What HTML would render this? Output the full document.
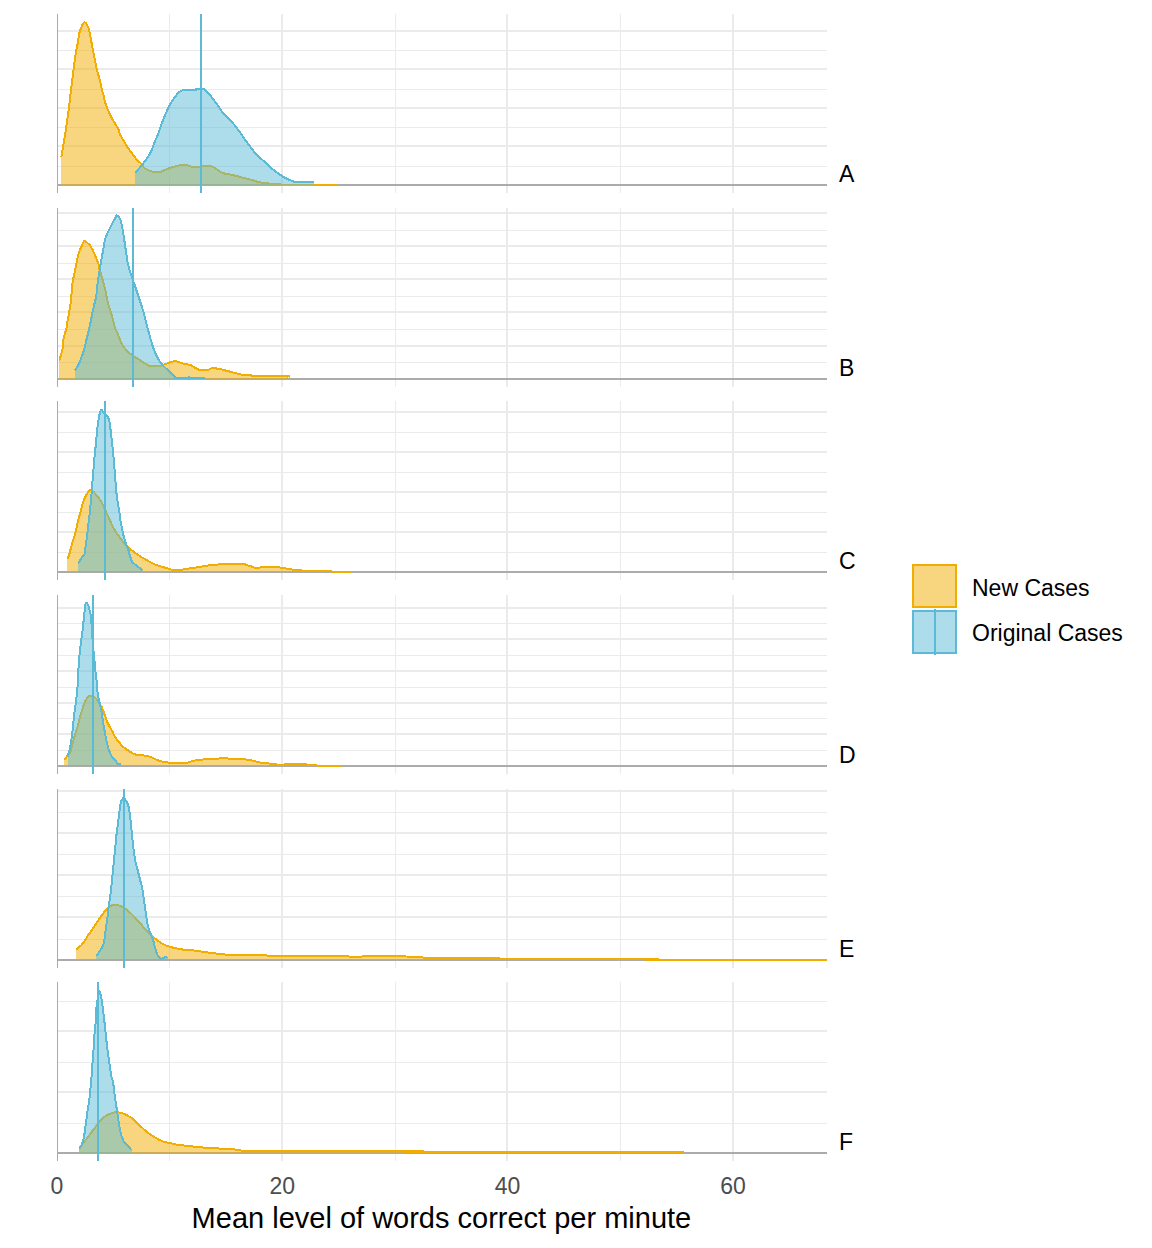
<!DOCTYPE html>
<html><head><meta charset="utf-8"><title>Density chart</title>
<style>html,body{margin:0;padding:0;background:#fff;width:1152px;height:1248px;overflow:hidden;font-family:"Liberation Sans",sans-serif}</style>
</head><body>
<svg width="1152" height="1248" viewBox="0 0 1152 1248" style="position:absolute;left:0;top:0">
<rect width="1152" height="1248" fill="#fff"/>
<g shape-rendering="crispEdges">
<rect x="169.00" y="14.00" width="1.00" height="179.00" fill="#EBEBEB"/>
<rect x="395.00" y="14.00" width="1.00" height="179.00" fill="#EBEBEB"/>
<rect x="620.00" y="14.00" width="1.00" height="179.00" fill="#EBEBEB"/>
<rect x="281.00" y="14.00" width="2.00" height="179.00" fill="#EBEBEB"/>
<rect x="506.00" y="14.00" width="2.00" height="179.00" fill="#EBEBEB"/>
<rect x="732.00" y="14.00" width="2.00" height="179.00" fill="#EBEBEB"/>
<rect x="57.00" y="30.00" width="770.00" height="2.00" fill="#EBEBEB"/>
<rect x="57.00" y="68.00" width="770.00" height="2.00" fill="#EBEBEB"/>
<rect x="57.00" y="107.00" width="770.00" height="2.00" fill="#EBEBEB"/>
<rect x="57.00" y="145.00" width="770.00" height="2.00" fill="#EBEBEB"/>
<rect x="57.00" y="50.00" width="770.00" height="1.00" fill="#EBEBEB"/>
<rect x="57.00" y="89.00" width="770.00" height="1.00" fill="#EBEBEB"/>
<rect x="57.00" y="127.00" width="770.00" height="1.00" fill="#EBEBEB"/>
<rect x="57.00" y="166.00" width="770.00" height="1.00" fill="#EBEBEB"/>
<rect x="57.00" y="184.00" width="770.00" height="2.00" fill="#ABABAB"/>
</g>
<path d="M61.30,157.00 C61.42,156.42 61.72,155.12 62.00,153.50 C62.28,151.88 62.67,149.40 63.00,147.30 C63.33,145.20 63.67,142.95 64.00,140.90 C64.33,138.85 64.63,137.25 65.00,135.00 C65.37,132.75 65.57,131.80 66.20,127.40 C66.83,123.00 68.02,114.68 68.80,108.60 C69.58,102.52 70.12,97.32 70.90,90.90 C71.68,84.48 72.72,76.17 73.50,70.10 C74.28,64.03 74.87,58.85 75.55,54.50 C76.23,50.15 76.99,47.48 77.60,44.00 C78.21,40.52 78.50,36.55 79.20,33.60 C79.90,30.65 80.95,28.20 81.80,26.30 C82.65,24.40 83.30,22.20 84.30,22.20 C85.30,22.20 86.87,24.40 87.80,26.30 C88.73,28.20 89.23,30.65 89.90,33.60 C90.57,36.55 91.15,40.52 91.80,44.00 C92.45,47.48 92.93,50.15 93.80,54.50 C94.67,58.85 96.00,65.88 97.00,70.10 C98.00,74.32 98.98,76.45 99.80,79.80 C100.62,83.15 101.32,87.77 101.90,90.20 C102.48,92.63 102.78,92.48 103.30,94.40 C103.82,96.32 104.37,99.45 105.00,101.70 C105.63,103.95 106.13,105.48 107.10,107.90 C108.07,110.33 109.38,113.47 110.80,116.25 C112.22,119.03 114.37,122.52 115.60,124.60 C116.83,126.68 117.42,127.02 118.20,128.75 C118.98,130.48 119.33,132.92 120.30,135.00 C121.27,137.08 122.78,139.17 124.00,141.25 C125.22,143.33 126.22,145.42 127.60,147.50 C128.98,149.58 130.73,151.67 132.30,153.75 C133.87,155.83 135.53,158.36 137.00,160.00 C138.47,161.64 139.80,162.22 141.10,163.60 C142.40,164.98 143.32,167.08 144.80,168.30 C146.28,169.52 148.27,170.27 150.00,170.90 C151.73,171.53 153.48,171.90 155.20,172.10 C156.92,172.30 158.72,172.47 160.30,172.10 C161.88,171.73 162.65,170.72 164.70,169.90 C166.75,169.08 169.82,168.02 172.60,167.20 C175.38,166.38 179.05,165.37 181.40,165.00 C183.75,164.63 184.93,164.70 186.70,165.00 C188.47,165.30 189.95,166.43 192.00,166.80 C194.05,167.17 196.95,167.35 199.00,167.20 C201.05,167.05 202.53,166.12 204.30,165.90 C206.07,165.68 208.07,165.68 209.60,165.90 C211.13,166.12 211.97,166.40 213.50,167.20 C215.03,168.00 217.03,169.67 218.80,170.70 C220.57,171.73 222.05,172.73 224.10,173.40 C226.15,174.07 229.05,174.27 231.10,174.70 C233.15,175.13 234.33,175.48 236.40,176.00 C238.47,176.52 241.15,177.20 243.50,177.80 C245.85,178.40 248.15,178.93 250.50,179.60 C252.85,180.27 255.25,181.22 257.60,181.80 C259.95,182.38 262.53,182.80 264.60,183.10 C266.67,183.40 267.43,183.38 270.00,183.60 C272.57,183.82 277.08,184.17 280.00,184.40 C282.92,184.63 277.85,184.90 287.50,185.00 C297.15,185.10 329.50,185.00 337.90,185.00 L337.90,185.00 L61.30,185.00 Z" fill="#EFAD00" fill-opacity="0.5" shape-rendering="crispEdges"/>
<path d="M61.30,157.00 C61.42,156.42 61.72,155.12 62.00,153.50 C62.28,151.88 62.67,149.40 63.00,147.30 C63.33,145.20 63.67,142.95 64.00,140.90 C64.33,138.85 64.63,137.25 65.00,135.00 C65.37,132.75 65.57,131.80 66.20,127.40 C66.83,123.00 68.02,114.68 68.80,108.60 C69.58,102.52 70.12,97.32 70.90,90.90 C71.68,84.48 72.72,76.17 73.50,70.10 C74.28,64.03 74.87,58.85 75.55,54.50 C76.23,50.15 76.99,47.48 77.60,44.00 C78.21,40.52 78.50,36.55 79.20,33.60 C79.90,30.65 80.95,28.20 81.80,26.30 C82.65,24.40 83.30,22.20 84.30,22.20 C85.30,22.20 86.87,24.40 87.80,26.30 C88.73,28.20 89.23,30.65 89.90,33.60 C90.57,36.55 91.15,40.52 91.80,44.00 C92.45,47.48 92.93,50.15 93.80,54.50 C94.67,58.85 96.00,65.88 97.00,70.10 C98.00,74.32 98.98,76.45 99.80,79.80 C100.62,83.15 101.32,87.77 101.90,90.20 C102.48,92.63 102.78,92.48 103.30,94.40 C103.82,96.32 104.37,99.45 105.00,101.70 C105.63,103.95 106.13,105.48 107.10,107.90 C108.07,110.33 109.38,113.47 110.80,116.25 C112.22,119.03 114.37,122.52 115.60,124.60 C116.83,126.68 117.42,127.02 118.20,128.75 C118.98,130.48 119.33,132.92 120.30,135.00 C121.27,137.08 122.78,139.17 124.00,141.25 C125.22,143.33 126.22,145.42 127.60,147.50 C128.98,149.58 130.73,151.67 132.30,153.75 C133.87,155.83 135.53,158.36 137.00,160.00 C138.47,161.64 139.80,162.22 141.10,163.60 C142.40,164.98 143.32,167.08 144.80,168.30 C146.28,169.52 148.27,170.27 150.00,170.90 C151.73,171.53 153.48,171.90 155.20,172.10 C156.92,172.30 158.72,172.47 160.30,172.10 C161.88,171.73 162.65,170.72 164.70,169.90 C166.75,169.08 169.82,168.02 172.60,167.20 C175.38,166.38 179.05,165.37 181.40,165.00 C183.75,164.63 184.93,164.70 186.70,165.00 C188.47,165.30 189.95,166.43 192.00,166.80 C194.05,167.17 196.95,167.35 199.00,167.20 C201.05,167.05 202.53,166.12 204.30,165.90 C206.07,165.68 208.07,165.68 209.60,165.90 C211.13,166.12 211.97,166.40 213.50,167.20 C215.03,168.00 217.03,169.67 218.80,170.70 C220.57,171.73 222.05,172.73 224.10,173.40 C226.15,174.07 229.05,174.27 231.10,174.70 C233.15,175.13 234.33,175.48 236.40,176.00 C238.47,176.52 241.15,177.20 243.50,177.80 C245.85,178.40 248.15,178.93 250.50,179.60 C252.85,180.27 255.25,181.22 257.60,181.80 C259.95,182.38 262.53,182.80 264.60,183.10 C266.67,183.40 267.43,183.38 270.00,183.60 C272.57,183.82 277.08,184.17 280.00,184.40 C282.92,184.63 277.85,184.90 287.50,185.00 C297.15,185.10 329.50,185.00 337.90,185.00" fill="none" stroke="#F2AE00" stroke-width="2" stroke-linejoin="round" shape-rendering="crispEdges"/>
<path d="M135.40,172.50 C136.62,171.12 140.27,167.32 142.70,164.20 C145.13,161.07 148.08,157.23 150.00,153.75 C151.92,150.27 153.07,146.08 154.20,143.30 C155.33,140.53 156.08,138.83 156.80,137.10 C157.52,135.37 157.70,135.08 158.50,132.90 C159.30,130.72 160.50,126.95 161.60,124.00 C162.70,121.05 164.00,117.83 165.10,115.20 C166.20,112.57 167.23,110.25 168.20,108.20 C169.17,106.15 169.77,104.77 170.90,102.90 C172.03,101.03 173.73,98.72 175.00,97.00 C176.27,95.28 177.50,93.60 178.50,92.60 C179.50,91.60 180.17,91.42 181.00,91.00 C181.83,90.58 181.12,90.27 183.50,90.10 C185.88,89.93 193.13,90.18 195.30,90.00 C197.47,89.82 195.13,89.17 196.50,89.00 C197.87,88.83 201.83,88.58 203.50,89.00 C205.17,89.42 205.47,90.58 206.50,91.50 C207.53,92.42 208.58,93.18 209.70,94.50 C210.82,95.82 212.27,98.15 213.20,99.40 C214.13,100.65 214.22,100.53 215.30,102.00 C216.38,103.47 218.38,106.28 219.70,108.20 C221.02,110.12 221.58,111.60 223.20,113.50 C224.82,115.40 227.42,117.55 229.40,119.60 C231.38,121.65 233.27,123.58 235.10,125.80 C236.93,128.02 238.72,130.55 240.40,132.90 C242.08,135.25 243.52,137.55 245.20,139.90 C246.88,142.25 248.73,144.65 250.50,147.00 C252.27,149.35 253.60,151.65 255.80,154.00 C258.00,156.35 261.33,158.90 263.70,161.10 C266.07,163.30 267.70,165.23 270.00,167.20 C272.30,169.17 275.00,171.12 277.50,172.90 C280.00,174.68 282.37,176.51 285.00,177.90 C287.63,179.29 291.47,180.57 293.30,181.25 C295.13,181.93 292.59,181.88 296.00,182.00 C299.41,182.12 310.79,182.00 313.75,182.00 L313.75,185.00 L135.40,185.00 Z" fill="#5BBBD5" fill-opacity="0.5" shape-rendering="crispEdges"/>
<path d="M135.40,172.50 C136.62,171.12 140.27,167.32 142.70,164.20 C145.13,161.07 148.08,157.23 150.00,153.75 C151.92,150.27 153.07,146.08 154.20,143.30 C155.33,140.53 156.08,138.83 156.80,137.10 C157.52,135.37 157.70,135.08 158.50,132.90 C159.30,130.72 160.50,126.95 161.60,124.00 C162.70,121.05 164.00,117.83 165.10,115.20 C166.20,112.57 167.23,110.25 168.20,108.20 C169.17,106.15 169.77,104.77 170.90,102.90 C172.03,101.03 173.73,98.72 175.00,97.00 C176.27,95.28 177.50,93.60 178.50,92.60 C179.50,91.60 180.17,91.42 181.00,91.00 C181.83,90.58 181.12,90.27 183.50,90.10 C185.88,89.93 193.13,90.18 195.30,90.00 C197.47,89.82 195.13,89.17 196.50,89.00 C197.87,88.83 201.83,88.58 203.50,89.00 C205.17,89.42 205.47,90.58 206.50,91.50 C207.53,92.42 208.58,93.18 209.70,94.50 C210.82,95.82 212.27,98.15 213.20,99.40 C214.13,100.65 214.22,100.53 215.30,102.00 C216.38,103.47 218.38,106.28 219.70,108.20 C221.02,110.12 221.58,111.60 223.20,113.50 C224.82,115.40 227.42,117.55 229.40,119.60 C231.38,121.65 233.27,123.58 235.10,125.80 C236.93,128.02 238.72,130.55 240.40,132.90 C242.08,135.25 243.52,137.55 245.20,139.90 C246.88,142.25 248.73,144.65 250.50,147.00 C252.27,149.35 253.60,151.65 255.80,154.00 C258.00,156.35 261.33,158.90 263.70,161.10 C266.07,163.30 267.70,165.23 270.00,167.20 C272.30,169.17 275.00,171.12 277.50,172.90 C280.00,174.68 282.37,176.51 285.00,177.90 C287.63,179.29 291.47,180.57 293.30,181.25 C295.13,181.93 292.59,181.88 296.00,182.00 C299.41,182.12 310.79,182.00 313.75,182.00" fill="none" stroke="#5BBBD6" stroke-width="2" stroke-linejoin="round" shape-rendering="crispEdges"/>
<g shape-rendering="crispEdges"><rect x="200.00" y="14.00" width="2.00" height="179.00" fill="#5BBBD6"/><rect x="57.00" y="14.00" width="1.00" height="179.00" fill="#ABABAB"/></g>
<text x="839" y="182.30" font-family="Liberation Sans" font-size="23" fill="#000">A</text>
<g shape-rendering="crispEdges">
<rect x="169.00" y="208.00" width="1.00" height="179.00" fill="#EBEBEB"/>
<rect x="395.00" y="208.00" width="1.00" height="179.00" fill="#EBEBEB"/>
<rect x="620.00" y="208.00" width="1.00" height="179.00" fill="#EBEBEB"/>
<rect x="281.00" y="208.00" width="2.00" height="179.00" fill="#EBEBEB"/>
<rect x="506.00" y="208.00" width="2.00" height="179.00" fill="#EBEBEB"/>
<rect x="732.00" y="208.00" width="2.00" height="179.00" fill="#EBEBEB"/>
<rect x="57.00" y="212.00" width="770.00" height="2.00" fill="#EBEBEB"/>
<rect x="57.00" y="245.00" width="770.00" height="2.00" fill="#EBEBEB"/>
<rect x="57.00" y="278.00" width="770.00" height="2.00" fill="#EBEBEB"/>
<rect x="57.00" y="311.00" width="770.00" height="2.00" fill="#EBEBEB"/>
<rect x="57.00" y="345.00" width="770.00" height="2.00" fill="#EBEBEB"/>
<rect x="57.00" y="230.00" width="770.00" height="1.00" fill="#EBEBEB"/>
<rect x="57.00" y="263.00" width="770.00" height="1.00" fill="#EBEBEB"/>
<rect x="57.00" y="296.00" width="770.00" height="1.00" fill="#EBEBEB"/>
<rect x="57.00" y="329.00" width="770.00" height="1.00" fill="#EBEBEB"/>
<rect x="57.00" y="362.00" width="770.00" height="1.00" fill="#EBEBEB"/>
<rect x="57.00" y="378.00" width="770.00" height="2.00" fill="#ABABAB"/>
</g>
<path d="M59.30,360.60 C59.50,359.92 60.13,357.77 60.50,356.50 C60.87,355.23 61.18,354.17 61.50,353.00 C61.82,351.83 62.15,350.83 62.40,349.50 C62.65,348.17 62.85,346.58 63.00,345.00 C63.15,343.42 63.10,341.50 63.30,340.00 C63.50,338.50 63.70,337.87 64.20,336.00 C64.70,334.13 65.77,331.20 66.30,328.80 C66.83,326.40 66.98,324.00 67.40,321.60 C67.82,319.20 68.38,316.80 68.80,314.40 C69.22,312.00 69.53,309.60 69.90,307.20 C70.27,304.80 70.57,304.05 71.00,300.00 C71.43,295.95 71.90,287.48 72.50,282.90 C73.10,278.32 73.98,275.62 74.60,272.50 C75.22,269.38 75.68,266.80 76.20,264.20 C76.72,261.60 77.18,258.98 77.70,256.90 C78.22,254.82 78.68,253.43 79.30,251.70 C79.92,249.97 80.70,248.07 81.40,246.50 C82.10,244.93 82.97,243.27 83.50,242.30 C84.03,241.33 83.88,240.53 84.60,240.70 C85.32,240.87 86.83,242.43 87.80,243.30 C88.77,244.17 89.45,244.50 90.40,245.90 C91.35,247.30 92.55,249.70 93.50,251.70 C94.45,253.70 95.27,255.82 96.10,257.90 C96.93,259.98 97.93,262.25 98.50,264.20 C99.07,266.15 99.03,267.80 99.50,269.60 C99.97,271.40 100.80,273.35 101.30,275.00 C101.80,276.65 102.02,277.75 102.50,279.50 C102.98,281.25 103.67,283.42 104.20,285.50 C104.73,287.58 105.20,289.58 105.70,292.00 C106.20,294.42 106.62,297.50 107.20,300.00 C107.78,302.50 108.48,304.60 109.20,307.00 C109.92,309.40 110.80,311.97 111.50,314.40 C112.20,316.83 112.77,319.25 113.40,321.60 C114.03,323.95 114.67,326.70 115.30,328.50 C115.93,330.30 116.17,329.93 117.20,332.40 C118.23,334.87 119.93,340.28 121.50,343.30 C123.07,346.32 124.92,348.58 126.60,350.50 C128.28,352.42 130.03,353.60 131.60,354.80 C133.17,356.00 134.32,356.62 136.00,357.70 C137.68,358.78 139.78,360.10 141.70,361.30 C143.62,362.50 146.05,364.12 147.50,364.90 C148.95,365.68 148.23,365.82 150.40,366.00 C152.57,366.18 158.03,366.33 160.50,366.00 C162.97,365.67 163.80,364.52 165.20,364.00 C166.60,363.48 167.77,363.30 168.90,362.90 C170.03,362.50 170.45,361.82 172.00,361.60 C173.55,361.38 176.73,361.38 178.20,361.60 C179.67,361.82 179.67,362.50 180.80,362.90 C181.93,363.30 183.43,363.65 185.00,364.00 C186.57,364.35 188.72,364.48 190.20,365.00 C191.68,365.52 192.68,366.45 193.90,367.10 C195.12,367.75 196.55,368.43 197.50,368.90 C198.45,369.37 197.87,369.73 199.60,369.90 C201.33,370.07 206.08,370.12 207.90,369.90 C209.72,369.68 209.45,368.98 210.50,368.60 C211.55,368.22 213.07,367.55 214.20,367.60 C215.33,367.65 216.23,368.68 217.30,368.90 C218.37,369.12 219.72,368.73 220.60,368.90 C221.48,369.07 221.57,369.58 222.60,369.90 C223.63,370.22 225.40,370.47 226.80,370.80 C228.20,371.13 229.73,371.55 231.00,371.90 C232.27,372.25 233.13,372.57 234.40,372.90 C235.67,373.23 236.97,373.55 238.60,373.90 C240.23,374.25 242.12,374.82 244.20,375.00 C246.28,375.18 249.48,374.87 251.10,375.00 C252.72,375.13 248.00,375.67 253.90,375.80 C259.80,375.93 280.77,375.58 286.50,375.80 C292.23,376.02 288.00,376.88 288.30,377.10 L288.30,379.00 L59.30,379.00 Z" fill="#EFAD00" fill-opacity="0.5" shape-rendering="crispEdges"/>
<path d="M59.30,360.60 C59.50,359.92 60.13,357.77 60.50,356.50 C60.87,355.23 61.18,354.17 61.50,353.00 C61.82,351.83 62.15,350.83 62.40,349.50 C62.65,348.17 62.85,346.58 63.00,345.00 C63.15,343.42 63.10,341.50 63.30,340.00 C63.50,338.50 63.70,337.87 64.20,336.00 C64.70,334.13 65.77,331.20 66.30,328.80 C66.83,326.40 66.98,324.00 67.40,321.60 C67.82,319.20 68.38,316.80 68.80,314.40 C69.22,312.00 69.53,309.60 69.90,307.20 C70.27,304.80 70.57,304.05 71.00,300.00 C71.43,295.95 71.90,287.48 72.50,282.90 C73.10,278.32 73.98,275.62 74.60,272.50 C75.22,269.38 75.68,266.80 76.20,264.20 C76.72,261.60 77.18,258.98 77.70,256.90 C78.22,254.82 78.68,253.43 79.30,251.70 C79.92,249.97 80.70,248.07 81.40,246.50 C82.10,244.93 82.97,243.27 83.50,242.30 C84.03,241.33 83.88,240.53 84.60,240.70 C85.32,240.87 86.83,242.43 87.80,243.30 C88.77,244.17 89.45,244.50 90.40,245.90 C91.35,247.30 92.55,249.70 93.50,251.70 C94.45,253.70 95.27,255.82 96.10,257.90 C96.93,259.98 97.93,262.25 98.50,264.20 C99.07,266.15 99.03,267.80 99.50,269.60 C99.97,271.40 100.80,273.35 101.30,275.00 C101.80,276.65 102.02,277.75 102.50,279.50 C102.98,281.25 103.67,283.42 104.20,285.50 C104.73,287.58 105.20,289.58 105.70,292.00 C106.20,294.42 106.62,297.50 107.20,300.00 C107.78,302.50 108.48,304.60 109.20,307.00 C109.92,309.40 110.80,311.97 111.50,314.40 C112.20,316.83 112.77,319.25 113.40,321.60 C114.03,323.95 114.67,326.70 115.30,328.50 C115.93,330.30 116.17,329.93 117.20,332.40 C118.23,334.87 119.93,340.28 121.50,343.30 C123.07,346.32 124.92,348.58 126.60,350.50 C128.28,352.42 130.03,353.60 131.60,354.80 C133.17,356.00 134.32,356.62 136.00,357.70 C137.68,358.78 139.78,360.10 141.70,361.30 C143.62,362.50 146.05,364.12 147.50,364.90 C148.95,365.68 148.23,365.82 150.40,366.00 C152.57,366.18 158.03,366.33 160.50,366.00 C162.97,365.67 163.80,364.52 165.20,364.00 C166.60,363.48 167.77,363.30 168.90,362.90 C170.03,362.50 170.45,361.82 172.00,361.60 C173.55,361.38 176.73,361.38 178.20,361.60 C179.67,361.82 179.67,362.50 180.80,362.90 C181.93,363.30 183.43,363.65 185.00,364.00 C186.57,364.35 188.72,364.48 190.20,365.00 C191.68,365.52 192.68,366.45 193.90,367.10 C195.12,367.75 196.55,368.43 197.50,368.90 C198.45,369.37 197.87,369.73 199.60,369.90 C201.33,370.07 206.08,370.12 207.90,369.90 C209.72,369.68 209.45,368.98 210.50,368.60 C211.55,368.22 213.07,367.55 214.20,367.60 C215.33,367.65 216.23,368.68 217.30,368.90 C218.37,369.12 219.72,368.73 220.60,368.90 C221.48,369.07 221.57,369.58 222.60,369.90 C223.63,370.22 225.40,370.47 226.80,370.80 C228.20,371.13 229.73,371.55 231.00,371.90 C232.27,372.25 233.13,372.57 234.40,372.90 C235.67,373.23 236.97,373.55 238.60,373.90 C240.23,374.25 242.12,374.82 244.20,375.00 C246.28,375.18 249.48,374.87 251.10,375.00 C252.72,375.13 248.00,375.67 253.90,375.80 C259.80,375.93 280.77,375.58 286.50,375.80 C292.23,376.02 288.00,376.88 288.30,377.10" fill="none" stroke="#F2AE00" stroke-width="2" stroke-linejoin="round" shape-rendering="crispEdges"/>
<path d="M74.90,370.50 C75.48,369.57 77.33,367.03 78.40,364.90 C79.47,362.77 80.40,360.10 81.30,357.70 C82.20,355.30 83.08,352.90 83.80,350.50 C84.52,348.10 85.00,345.72 85.60,343.30 C86.20,340.88 86.80,338.42 87.40,336.00 C88.00,333.58 88.65,331.20 89.20,328.80 C89.75,326.40 90.22,324.00 90.70,321.60 C91.18,319.20 91.62,316.80 92.10,314.40 C92.58,312.00 93.05,309.60 93.60,307.20 C94.15,304.80 94.90,302.32 95.40,300.00 C95.90,297.68 96.18,296.50 96.60,293.30 C97.02,290.10 97.33,284.97 97.90,280.80 C98.47,276.63 99.38,272.02 100.00,268.30 C100.62,264.58 101.10,261.42 101.60,258.50 C102.10,255.58 102.55,253.38 103.00,250.80 C103.45,248.22 103.88,245.08 104.30,243.00 C104.72,240.92 105.00,239.88 105.50,238.30 C106.00,236.72 106.50,235.30 107.30,233.50 C108.10,231.70 109.30,229.50 110.30,227.50 C111.30,225.50 112.40,223.20 113.30,221.50 C114.20,219.80 115.13,218.32 115.70,217.30 C116.27,216.28 116.02,215.20 116.70,215.40 C117.38,215.60 119.02,217.11 119.80,218.50 C120.58,219.89 120.88,221.67 121.40,223.75 C121.92,225.83 122.38,228.04 122.90,231.00 C123.42,233.96 123.98,238.02 124.50,241.50 C125.02,244.98 125.48,248.43 126.00,251.90 C126.52,255.37 126.98,259.18 127.60,262.30 C128.22,265.42 129.00,268.17 129.70,270.60 C130.40,273.03 131.02,274.63 131.80,276.90 C132.58,279.17 133.45,281.43 134.40,284.20 C135.35,286.97 136.45,290.37 137.50,293.50 C138.55,296.63 139.73,300.00 140.70,303.00 C141.67,306.00 142.52,308.75 143.30,311.50 C144.08,314.25 144.68,316.75 145.40,319.50 C146.12,322.25 146.88,325.25 147.60,328.00 C148.32,330.75 149.00,333.45 149.70,336.00 C150.40,338.55 151.03,340.88 151.80,343.30 C152.57,345.72 153.33,348.10 154.30,350.50 C155.27,352.90 156.48,355.58 157.60,357.70 C158.72,359.82 159.72,361.52 161.00,363.20 C162.28,364.88 163.75,366.27 165.30,367.80 C166.85,369.33 168.67,370.87 170.30,372.40 C171.93,373.93 174.13,376.07 175.10,377.00 C176.07,377.93 173.93,377.83 176.10,378.00 C178.27,378.17 185.88,378.18 188.10,378.00 C190.32,377.82 188.88,376.90 189.40,376.90 C189.93,376.90 188.73,377.82 191.25,378.00 C193.77,378.18 202.29,378.00 204.50,378.00 L204.50,379.00 L74.90,379.00 Z" fill="#5BBBD5" fill-opacity="0.5" shape-rendering="crispEdges"/>
<path d="M74.90,370.50 C75.48,369.57 77.33,367.03 78.40,364.90 C79.47,362.77 80.40,360.10 81.30,357.70 C82.20,355.30 83.08,352.90 83.80,350.50 C84.52,348.10 85.00,345.72 85.60,343.30 C86.20,340.88 86.80,338.42 87.40,336.00 C88.00,333.58 88.65,331.20 89.20,328.80 C89.75,326.40 90.22,324.00 90.70,321.60 C91.18,319.20 91.62,316.80 92.10,314.40 C92.58,312.00 93.05,309.60 93.60,307.20 C94.15,304.80 94.90,302.32 95.40,300.00 C95.90,297.68 96.18,296.50 96.60,293.30 C97.02,290.10 97.33,284.97 97.90,280.80 C98.47,276.63 99.38,272.02 100.00,268.30 C100.62,264.58 101.10,261.42 101.60,258.50 C102.10,255.58 102.55,253.38 103.00,250.80 C103.45,248.22 103.88,245.08 104.30,243.00 C104.72,240.92 105.00,239.88 105.50,238.30 C106.00,236.72 106.50,235.30 107.30,233.50 C108.10,231.70 109.30,229.50 110.30,227.50 C111.30,225.50 112.40,223.20 113.30,221.50 C114.20,219.80 115.13,218.32 115.70,217.30 C116.27,216.28 116.02,215.20 116.70,215.40 C117.38,215.60 119.02,217.11 119.80,218.50 C120.58,219.89 120.88,221.67 121.40,223.75 C121.92,225.83 122.38,228.04 122.90,231.00 C123.42,233.96 123.98,238.02 124.50,241.50 C125.02,244.98 125.48,248.43 126.00,251.90 C126.52,255.37 126.98,259.18 127.60,262.30 C128.22,265.42 129.00,268.17 129.70,270.60 C130.40,273.03 131.02,274.63 131.80,276.90 C132.58,279.17 133.45,281.43 134.40,284.20 C135.35,286.97 136.45,290.37 137.50,293.50 C138.55,296.63 139.73,300.00 140.70,303.00 C141.67,306.00 142.52,308.75 143.30,311.50 C144.08,314.25 144.68,316.75 145.40,319.50 C146.12,322.25 146.88,325.25 147.60,328.00 C148.32,330.75 149.00,333.45 149.70,336.00 C150.40,338.55 151.03,340.88 151.80,343.30 C152.57,345.72 153.33,348.10 154.30,350.50 C155.27,352.90 156.48,355.58 157.60,357.70 C158.72,359.82 159.72,361.52 161.00,363.20 C162.28,364.88 163.75,366.27 165.30,367.80 C166.85,369.33 168.67,370.87 170.30,372.40 C171.93,373.93 174.13,376.07 175.10,377.00 C176.07,377.93 173.93,377.83 176.10,378.00 C178.27,378.17 185.88,378.18 188.10,378.00 C190.32,377.82 188.88,376.90 189.40,376.90 C189.93,376.90 188.73,377.82 191.25,378.00 C193.77,378.18 202.29,378.00 204.50,378.00" fill="none" stroke="#5BBBD6" stroke-width="2" stroke-linejoin="round" shape-rendering="crispEdges"/>
<g shape-rendering="crispEdges"><rect x="132.00" y="208.00" width="2.00" height="179.00" fill="#5BBBD6"/><rect x="57.00" y="208.00" width="1.00" height="179.00" fill="#ABABAB"/></g>
<text x="839" y="376.30" font-family="Liberation Sans" font-size="23" fill="#000">B</text>
<g shape-rendering="crispEdges">
<rect x="169.00" y="401.00" width="1.00" height="179.00" fill="#EBEBEB"/>
<rect x="395.00" y="401.00" width="1.00" height="179.00" fill="#EBEBEB"/>
<rect x="620.00" y="401.00" width="1.00" height="179.00" fill="#EBEBEB"/>
<rect x="281.00" y="401.00" width="2.00" height="179.00" fill="#EBEBEB"/>
<rect x="506.00" y="401.00" width="2.00" height="179.00" fill="#EBEBEB"/>
<rect x="732.00" y="401.00" width="2.00" height="179.00" fill="#EBEBEB"/>
<rect x="57.00" y="411.00" width="770.00" height="2.00" fill="#EBEBEB"/>
<rect x="57.00" y="451.00" width="770.00" height="2.00" fill="#EBEBEB"/>
<rect x="57.00" y="491.00" width="770.00" height="2.00" fill="#EBEBEB"/>
<rect x="57.00" y="531.00" width="770.00" height="2.00" fill="#EBEBEB"/>
<rect x="57.00" y="432.00" width="770.00" height="1.00" fill="#EBEBEB"/>
<rect x="57.00" y="472.00" width="770.00" height="1.00" fill="#EBEBEB"/>
<rect x="57.00" y="512.00" width="770.00" height="1.00" fill="#EBEBEB"/>
<rect x="57.00" y="552.00" width="770.00" height="1.00" fill="#EBEBEB"/>
<rect x="57.00" y="571.00" width="770.00" height="2.00" fill="#ABABAB"/>
</g>
<path d="M67.40,558.80 C67.67,558.25 68.57,556.72 69.00,555.50 C69.43,554.28 69.48,553.47 70.00,551.50 C70.52,549.53 71.35,546.30 72.10,543.70 C72.85,541.10 73.78,538.48 74.50,535.90 C75.22,533.32 75.82,530.65 76.40,528.20 C76.98,525.75 77.42,523.53 78.00,521.20 C78.58,518.87 79.27,516.53 79.90,514.20 C80.53,511.87 81.22,509.40 81.80,507.20 C82.38,505.00 82.75,502.88 83.40,501.00 C84.05,499.12 84.92,497.35 85.70,495.90 C86.48,494.45 87.38,493.25 88.10,492.30 C88.82,491.35 89.17,490.33 90.00,490.20 C90.83,490.07 91.93,490.57 93.10,491.50 C94.27,492.43 95.70,494.22 97.00,495.80 C98.30,497.38 99.73,499.10 100.90,501.00 C102.07,502.90 102.90,504.87 104.00,507.20 C105.10,509.53 106.33,512.42 107.50,515.00 C108.67,517.58 109.78,520.15 111.00,522.70 C112.22,525.25 113.52,528.12 114.80,530.30 C116.08,532.48 117.53,534.17 118.70,535.80 C119.87,537.43 120.77,538.67 121.80,540.10 C122.83,541.53 123.67,543.07 124.90,544.40 C126.13,545.73 127.87,546.97 129.20,548.10 C130.53,549.23 131.57,550.17 132.90,551.20 C134.23,552.23 135.87,553.37 137.20,554.30 C138.53,555.23 139.57,555.97 140.90,556.80 C142.23,557.63 143.75,558.48 145.20,559.30 C146.65,560.12 148.05,560.88 149.60,561.70 C151.15,562.52 152.87,563.48 154.50,564.20 C156.13,564.92 157.85,565.48 159.40,566.00 C160.95,566.52 162.25,566.83 163.80,567.30 C165.35,567.77 167.17,568.37 168.70,568.80 C170.23,569.23 171.45,569.68 173.00,569.90 C174.55,570.12 176.17,570.20 178.00,570.10 C179.83,570.00 182.00,569.60 184.00,569.30 C186.00,569.00 187.58,568.67 190.00,568.30 C192.42,567.93 196.00,567.48 198.50,567.10 C201.00,566.72 202.75,566.35 205.00,566.00 C207.25,565.65 209.67,565.27 212.00,565.00 C214.33,564.73 216.67,564.60 219.00,564.40 C221.33,564.20 222.08,563.90 226.00,563.80 C229.92,563.70 238.95,563.55 242.50,563.80 C246.05,564.05 245.84,564.87 247.30,565.30 C248.76,565.73 249.68,565.95 251.25,566.40 C252.82,566.85 254.41,567.95 256.70,568.00 C258.99,568.05 261.95,566.92 265.00,566.70 C268.05,566.48 272.22,566.52 275.00,566.70 C277.78,566.88 279.20,567.38 281.70,567.80 C284.20,568.22 287.23,568.78 290.00,569.20 C292.77,569.62 293.58,569.95 298.30,570.30 C303.02,570.65 309.55,571.07 318.30,571.30 C327.05,571.53 345.38,571.63 350.80,571.70 L350.80,572.00 L67.40,572.00 Z" fill="#EFAD00" fill-opacity="0.5" shape-rendering="crispEdges"/>
<path d="M67.40,558.80 C67.67,558.25 68.57,556.72 69.00,555.50 C69.43,554.28 69.48,553.47 70.00,551.50 C70.52,549.53 71.35,546.30 72.10,543.70 C72.85,541.10 73.78,538.48 74.50,535.90 C75.22,533.32 75.82,530.65 76.40,528.20 C76.98,525.75 77.42,523.53 78.00,521.20 C78.58,518.87 79.27,516.53 79.90,514.20 C80.53,511.87 81.22,509.40 81.80,507.20 C82.38,505.00 82.75,502.88 83.40,501.00 C84.05,499.12 84.92,497.35 85.70,495.90 C86.48,494.45 87.38,493.25 88.10,492.30 C88.82,491.35 89.17,490.33 90.00,490.20 C90.83,490.07 91.93,490.57 93.10,491.50 C94.27,492.43 95.70,494.22 97.00,495.80 C98.30,497.38 99.73,499.10 100.90,501.00 C102.07,502.90 102.90,504.87 104.00,507.20 C105.10,509.53 106.33,512.42 107.50,515.00 C108.67,517.58 109.78,520.15 111.00,522.70 C112.22,525.25 113.52,528.12 114.80,530.30 C116.08,532.48 117.53,534.17 118.70,535.80 C119.87,537.43 120.77,538.67 121.80,540.10 C122.83,541.53 123.67,543.07 124.90,544.40 C126.13,545.73 127.87,546.97 129.20,548.10 C130.53,549.23 131.57,550.17 132.90,551.20 C134.23,552.23 135.87,553.37 137.20,554.30 C138.53,555.23 139.57,555.97 140.90,556.80 C142.23,557.63 143.75,558.48 145.20,559.30 C146.65,560.12 148.05,560.88 149.60,561.70 C151.15,562.52 152.87,563.48 154.50,564.20 C156.13,564.92 157.85,565.48 159.40,566.00 C160.95,566.52 162.25,566.83 163.80,567.30 C165.35,567.77 167.17,568.37 168.70,568.80 C170.23,569.23 171.45,569.68 173.00,569.90 C174.55,570.12 176.17,570.20 178.00,570.10 C179.83,570.00 182.00,569.60 184.00,569.30 C186.00,569.00 187.58,568.67 190.00,568.30 C192.42,567.93 196.00,567.48 198.50,567.10 C201.00,566.72 202.75,566.35 205.00,566.00 C207.25,565.65 209.67,565.27 212.00,565.00 C214.33,564.73 216.67,564.60 219.00,564.40 C221.33,564.20 222.08,563.90 226.00,563.80 C229.92,563.70 238.95,563.55 242.50,563.80 C246.05,564.05 245.84,564.87 247.30,565.30 C248.76,565.73 249.68,565.95 251.25,566.40 C252.82,566.85 254.41,567.95 256.70,568.00 C258.99,568.05 261.95,566.92 265.00,566.70 C268.05,566.48 272.22,566.52 275.00,566.70 C277.78,566.88 279.20,567.38 281.70,567.80 C284.20,568.22 287.23,568.78 290.00,569.20 C292.77,569.62 293.58,569.95 298.30,570.30 C303.02,570.65 309.55,571.07 318.30,571.30 C327.05,571.53 345.38,571.63 350.80,571.70" fill="none" stroke="#F2AE00" stroke-width="2" stroke-linejoin="round" shape-rendering="crispEdges"/>
<path d="M78.20,563.50 C78.78,562.53 80.65,559.32 81.70,557.70 C82.75,556.08 83.85,555.75 84.50,553.80 C85.15,551.85 85.22,548.58 85.60,546.00 C85.98,543.42 86.45,540.88 86.80,538.30 C87.15,535.72 87.40,533.10 87.70,530.50 C88.00,527.90 88.30,525.28 88.60,522.70 C88.90,520.12 89.22,517.58 89.50,515.00 C89.78,512.42 90.03,509.80 90.30,507.20 C90.57,504.60 90.85,502.25 91.10,499.40 C91.35,496.55 91.58,492.83 91.80,490.10 C92.02,487.37 92.20,485.68 92.40,483.00 C92.60,480.32 92.82,476.33 93.00,474.00 C93.18,471.67 93.28,471.50 93.50,469.00 C93.72,466.50 94.00,462.23 94.30,459.00 C94.60,455.77 94.98,452.72 95.30,449.60 C95.62,446.48 95.92,443.15 96.20,440.30 C96.48,437.45 96.73,435.08 97.00,432.50 C97.27,429.92 97.47,427.38 97.80,424.80 C98.13,422.22 98.62,419.08 99.00,417.00 C99.38,414.92 99.70,413.53 100.10,412.30 C100.50,411.07 100.95,409.73 101.40,409.60 C101.85,409.47 102.30,410.78 102.80,411.50 C103.30,412.22 103.82,413.25 104.40,413.90 C104.98,414.55 105.67,414.75 106.30,415.40 C106.93,416.05 107.68,416.77 108.20,417.80 C108.72,418.83 109.03,419.80 109.40,421.60 C109.77,423.40 110.07,426.00 110.40,428.60 C110.73,431.20 111.05,434.08 111.40,437.20 C111.75,440.32 112.15,443.93 112.50,447.30 C112.85,450.67 113.17,453.78 113.50,457.40 C113.83,461.02 114.18,465.12 114.50,469.00 C114.82,472.88 115.08,476.80 115.40,480.70 C115.72,484.60 116.08,489.18 116.40,492.40 C116.72,495.62 116.92,497.40 117.30,500.00 C117.68,502.60 118.27,505.33 118.70,508.00 C119.13,510.67 119.53,513.42 119.90,516.00 C120.27,518.58 120.53,521.43 120.90,523.50 C121.27,525.57 121.75,526.77 122.10,528.40 C122.45,530.03 122.67,531.75 123.00,533.30 C123.33,534.85 123.73,536.35 124.10,537.70 C124.47,539.05 124.87,540.28 125.20,541.40 C125.53,542.52 125.68,543.28 126.10,544.40 C126.52,545.52 127.23,546.85 127.70,548.10 C128.17,549.35 128.55,550.65 128.90,551.90 C129.25,553.15 129.45,554.48 129.80,555.60 C130.15,556.72 130.63,557.58 131.00,558.60 C131.37,559.62 131.38,560.77 132.00,561.70 C132.62,562.63 133.78,563.37 134.75,564.20 C135.72,565.03 136.51,565.73 137.80,566.70 C139.09,567.67 141.72,569.45 142.50,570.00 L142.50,572.00 L78.20,572.00 Z" fill="#5BBBD5" fill-opacity="0.5" shape-rendering="crispEdges"/>
<path d="M78.20,563.50 C78.78,562.53 80.65,559.32 81.70,557.70 C82.75,556.08 83.85,555.75 84.50,553.80 C85.15,551.85 85.22,548.58 85.60,546.00 C85.98,543.42 86.45,540.88 86.80,538.30 C87.15,535.72 87.40,533.10 87.70,530.50 C88.00,527.90 88.30,525.28 88.60,522.70 C88.90,520.12 89.22,517.58 89.50,515.00 C89.78,512.42 90.03,509.80 90.30,507.20 C90.57,504.60 90.85,502.25 91.10,499.40 C91.35,496.55 91.58,492.83 91.80,490.10 C92.02,487.37 92.20,485.68 92.40,483.00 C92.60,480.32 92.82,476.33 93.00,474.00 C93.18,471.67 93.28,471.50 93.50,469.00 C93.72,466.50 94.00,462.23 94.30,459.00 C94.60,455.77 94.98,452.72 95.30,449.60 C95.62,446.48 95.92,443.15 96.20,440.30 C96.48,437.45 96.73,435.08 97.00,432.50 C97.27,429.92 97.47,427.38 97.80,424.80 C98.13,422.22 98.62,419.08 99.00,417.00 C99.38,414.92 99.70,413.53 100.10,412.30 C100.50,411.07 100.95,409.73 101.40,409.60 C101.85,409.47 102.30,410.78 102.80,411.50 C103.30,412.22 103.82,413.25 104.40,413.90 C104.98,414.55 105.67,414.75 106.30,415.40 C106.93,416.05 107.68,416.77 108.20,417.80 C108.72,418.83 109.03,419.80 109.40,421.60 C109.77,423.40 110.07,426.00 110.40,428.60 C110.73,431.20 111.05,434.08 111.40,437.20 C111.75,440.32 112.15,443.93 112.50,447.30 C112.85,450.67 113.17,453.78 113.50,457.40 C113.83,461.02 114.18,465.12 114.50,469.00 C114.82,472.88 115.08,476.80 115.40,480.70 C115.72,484.60 116.08,489.18 116.40,492.40 C116.72,495.62 116.92,497.40 117.30,500.00 C117.68,502.60 118.27,505.33 118.70,508.00 C119.13,510.67 119.53,513.42 119.90,516.00 C120.27,518.58 120.53,521.43 120.90,523.50 C121.27,525.57 121.75,526.77 122.10,528.40 C122.45,530.03 122.67,531.75 123.00,533.30 C123.33,534.85 123.73,536.35 124.10,537.70 C124.47,539.05 124.87,540.28 125.20,541.40 C125.53,542.52 125.68,543.28 126.10,544.40 C126.52,545.52 127.23,546.85 127.70,548.10 C128.17,549.35 128.55,550.65 128.90,551.90 C129.25,553.15 129.45,554.48 129.80,555.60 C130.15,556.72 130.63,557.58 131.00,558.60 C131.37,559.62 131.38,560.77 132.00,561.70 C132.62,562.63 133.78,563.37 134.75,564.20 C135.72,565.03 136.51,565.73 137.80,566.70 C139.09,567.67 141.72,569.45 142.50,570.00" fill="none" stroke="#5BBBD6" stroke-width="2" stroke-linejoin="round" shape-rendering="crispEdges"/>
<g shape-rendering="crispEdges"><rect x="104.00" y="401.00" width="2.00" height="179.00" fill="#5BBBD6"/><rect x="57.00" y="401.00" width="1.00" height="179.00" fill="#ABABAB"/></g>
<text x="839" y="569.30" font-family="Liberation Sans" font-size="23" fill="#000">C</text>
<g shape-rendering="crispEdges">
<rect x="169.00" y="595.00" width="1.00" height="179.00" fill="#EBEBEB"/>
<rect x="395.00" y="595.00" width="1.00" height="179.00" fill="#EBEBEB"/>
<rect x="620.00" y="595.00" width="1.00" height="179.00" fill="#EBEBEB"/>
<rect x="281.00" y="595.00" width="2.00" height="179.00" fill="#EBEBEB"/>
<rect x="506.00" y="595.00" width="2.00" height="179.00" fill="#EBEBEB"/>
<rect x="732.00" y="595.00" width="2.00" height="179.00" fill="#EBEBEB"/>
<rect x="57.00" y="607.00" width="770.00" height="2.00" fill="#EBEBEB"/>
<rect x="57.00" y="638.00" width="770.00" height="2.00" fill="#EBEBEB"/>
<rect x="57.00" y="670.00" width="770.00" height="2.00" fill="#EBEBEB"/>
<rect x="57.00" y="702.00" width="770.00" height="2.00" fill="#EBEBEB"/>
<rect x="57.00" y="733.00" width="770.00" height="2.00" fill="#EBEBEB"/>
<rect x="57.00" y="623.00" width="770.00" height="1.00" fill="#EBEBEB"/>
<rect x="57.00" y="655.00" width="770.00" height="1.00" fill="#EBEBEB"/>
<rect x="57.00" y="687.00" width="770.00" height="1.00" fill="#EBEBEB"/>
<rect x="57.00" y="718.00" width="770.00" height="1.00" fill="#EBEBEB"/>
<rect x="57.00" y="750.00" width="770.00" height="1.00" fill="#EBEBEB"/>
<rect x="57.00" y="765.00" width="770.00" height="2.00" fill="#ABABAB"/>
</g>
<path d="M64.30,759.80 C64.85,759.12 66.63,756.87 67.60,755.70 C68.57,754.53 69.45,754.12 70.10,752.80 C70.75,751.48 71.02,749.60 71.50,747.80 C71.98,746.00 72.52,743.80 73.00,742.00 C73.48,740.20 73.92,738.68 74.40,737.00 C74.88,735.32 75.33,733.72 75.90,731.90 C76.47,730.08 77.30,727.90 77.80,726.10 C78.30,724.30 78.48,722.78 78.90,721.10 C79.32,719.42 79.77,717.80 80.30,716.00 C80.83,714.20 81.55,712.10 82.10,710.30 C82.65,708.50 83.05,706.77 83.60,705.20 C84.15,703.63 84.80,702.10 85.40,700.90 C86.00,699.70 86.68,698.73 87.20,698.00 C87.72,697.27 87.98,696.85 88.50,696.50 C89.02,696.15 89.40,695.88 90.30,695.90 C91.20,695.92 92.70,695.88 93.90,696.60 C95.10,697.32 96.37,698.77 97.50,700.20 C98.63,701.63 99.87,703.77 100.70,705.20 C101.53,706.63 101.77,707.00 102.50,708.80 C103.23,710.60 104.20,713.58 105.10,716.00 C106.00,718.42 106.77,720.88 107.90,723.30 C109.03,725.72 110.63,728.10 111.90,730.50 C113.17,732.90 114.15,735.55 115.50,737.70 C116.85,739.85 118.83,741.98 120.00,743.40 C121.17,744.82 121.25,745.15 122.50,746.25 C123.75,747.35 125.42,748.64 127.50,750.00 C129.58,751.36 132.08,753.47 135.00,754.40 C137.92,755.33 142.29,755.12 145.00,755.60 C147.71,756.08 148.96,756.42 151.25,757.25 C153.54,758.08 156.04,759.73 158.75,760.60 C161.46,761.48 163.96,762.10 167.50,762.50 C171.04,762.90 176.53,763.00 180.00,763.00 C183.47,763.00 186.08,762.87 188.30,762.50 C190.52,762.13 191.35,761.27 193.30,760.80 C195.25,760.33 196.38,760.00 200.00,759.70 C203.62,759.40 210.97,759.32 215.00,759.00 C219.03,758.68 221.70,757.83 224.20,757.80 C226.70,757.77 226.82,758.57 230.00,758.80 C233.18,759.03 239.68,758.92 243.30,759.20 C246.92,759.48 248.92,759.95 251.70,760.50 C254.48,761.05 256.67,761.95 260.00,762.50 C263.33,763.05 268.08,763.38 271.70,763.80 C275.32,764.22 278.93,765.00 281.70,765.00 C284.47,765.00 284.13,763.88 288.30,763.80 C292.47,763.72 301.97,764.22 306.70,764.50 C311.43,764.78 311.02,765.30 316.70,765.50 C322.38,765.70 336.78,765.67 340.80,765.70 L340.80,766.00 L64.30,766.00 Z" fill="#EFAD00" fill-opacity="0.5" shape-rendering="crispEdges"/>
<path d="M64.30,759.80 C64.85,759.12 66.63,756.87 67.60,755.70 C68.57,754.53 69.45,754.12 70.10,752.80 C70.75,751.48 71.02,749.60 71.50,747.80 C71.98,746.00 72.52,743.80 73.00,742.00 C73.48,740.20 73.92,738.68 74.40,737.00 C74.88,735.32 75.33,733.72 75.90,731.90 C76.47,730.08 77.30,727.90 77.80,726.10 C78.30,724.30 78.48,722.78 78.90,721.10 C79.32,719.42 79.77,717.80 80.30,716.00 C80.83,714.20 81.55,712.10 82.10,710.30 C82.65,708.50 83.05,706.77 83.60,705.20 C84.15,703.63 84.80,702.10 85.40,700.90 C86.00,699.70 86.68,698.73 87.20,698.00 C87.72,697.27 87.98,696.85 88.50,696.50 C89.02,696.15 89.40,695.88 90.30,695.90 C91.20,695.92 92.70,695.88 93.90,696.60 C95.10,697.32 96.37,698.77 97.50,700.20 C98.63,701.63 99.87,703.77 100.70,705.20 C101.53,706.63 101.77,707.00 102.50,708.80 C103.23,710.60 104.20,713.58 105.10,716.00 C106.00,718.42 106.77,720.88 107.90,723.30 C109.03,725.72 110.63,728.10 111.90,730.50 C113.17,732.90 114.15,735.55 115.50,737.70 C116.85,739.85 118.83,741.98 120.00,743.40 C121.17,744.82 121.25,745.15 122.50,746.25 C123.75,747.35 125.42,748.64 127.50,750.00 C129.58,751.36 132.08,753.47 135.00,754.40 C137.92,755.33 142.29,755.12 145.00,755.60 C147.71,756.08 148.96,756.42 151.25,757.25 C153.54,758.08 156.04,759.73 158.75,760.60 C161.46,761.48 163.96,762.10 167.50,762.50 C171.04,762.90 176.53,763.00 180.00,763.00 C183.47,763.00 186.08,762.87 188.30,762.50 C190.52,762.13 191.35,761.27 193.30,760.80 C195.25,760.33 196.38,760.00 200.00,759.70 C203.62,759.40 210.97,759.32 215.00,759.00 C219.03,758.68 221.70,757.83 224.20,757.80 C226.70,757.77 226.82,758.57 230.00,758.80 C233.18,759.03 239.68,758.92 243.30,759.20 C246.92,759.48 248.92,759.95 251.70,760.50 C254.48,761.05 256.67,761.95 260.00,762.50 C263.33,763.05 268.08,763.38 271.70,763.80 C275.32,764.22 278.93,765.00 281.70,765.00 C284.47,765.00 284.13,763.88 288.30,763.80 C292.47,763.72 301.97,764.22 306.70,764.50 C311.43,764.78 311.02,765.30 316.70,765.50 C322.38,765.70 336.78,765.67 340.80,765.70" fill="none" stroke="#F2AE00" stroke-width="2" stroke-linejoin="round" shape-rendering="crispEdges"/>
<path d="M67.50,756.80 C67.98,755.04 69.60,750.30 70.40,746.25 C71.20,742.20 71.78,736.67 72.30,732.50 C72.82,728.33 73.08,725.00 73.50,721.25 C73.92,717.50 74.33,713.75 74.80,710.00 C75.27,706.25 75.83,702.71 76.30,698.75 C76.77,694.79 77.18,692.29 77.60,686.25 C78.02,680.21 78.38,668.54 78.80,662.50 C79.22,656.46 79.68,653.75 80.10,650.00 C80.52,646.25 80.88,643.33 81.30,640.00 C81.72,636.67 82.18,633.54 82.60,630.00 C83.02,626.46 83.38,622.60 83.80,618.75 C84.22,614.90 84.69,609.61 85.10,606.90 C85.51,604.19 85.73,602.73 86.25,602.50 C86.77,602.27 87.71,604.47 88.20,605.50 C88.69,606.53 88.78,607.02 89.20,608.70 C89.62,610.38 90.35,612.88 90.75,615.60 C91.15,618.32 91.29,620.93 91.60,625.00 C91.91,629.07 92.27,635.47 92.60,640.00 C92.93,644.53 93.22,648.10 93.60,652.20 C93.98,656.30 94.53,660.85 94.90,664.60 C95.27,668.35 95.52,671.97 95.80,674.70 C96.08,677.43 96.35,678.32 96.60,681.00 C96.85,683.68 96.95,687.85 97.30,690.80 C97.65,693.75 98.10,695.70 98.70,698.70 C99.30,701.70 100.23,705.30 100.90,708.80 C101.57,712.30 102.10,716.08 102.70,719.70 C103.30,723.32 103.85,726.90 104.50,730.50 C105.15,734.10 105.95,738.30 106.60,741.30 C107.25,744.30 107.62,746.10 108.40,748.50 C109.18,750.90 110.12,753.66 111.30,755.70 C112.48,757.74 114.43,759.43 115.50,760.75 C116.57,762.07 116.85,763.06 117.70,763.60 C118.55,764.14 120.12,763.93 120.60,764.00 L120.60,766.00 L67.50,766.00 Z" fill="#5BBBD5" fill-opacity="0.5" shape-rendering="crispEdges"/>
<path d="M67.50,756.80 C67.98,755.04 69.60,750.30 70.40,746.25 C71.20,742.20 71.78,736.67 72.30,732.50 C72.82,728.33 73.08,725.00 73.50,721.25 C73.92,717.50 74.33,713.75 74.80,710.00 C75.27,706.25 75.83,702.71 76.30,698.75 C76.77,694.79 77.18,692.29 77.60,686.25 C78.02,680.21 78.38,668.54 78.80,662.50 C79.22,656.46 79.68,653.75 80.10,650.00 C80.52,646.25 80.88,643.33 81.30,640.00 C81.72,636.67 82.18,633.54 82.60,630.00 C83.02,626.46 83.38,622.60 83.80,618.75 C84.22,614.90 84.69,609.61 85.10,606.90 C85.51,604.19 85.73,602.73 86.25,602.50 C86.77,602.27 87.71,604.47 88.20,605.50 C88.69,606.53 88.78,607.02 89.20,608.70 C89.62,610.38 90.35,612.88 90.75,615.60 C91.15,618.32 91.29,620.93 91.60,625.00 C91.91,629.07 92.27,635.47 92.60,640.00 C92.93,644.53 93.22,648.10 93.60,652.20 C93.98,656.30 94.53,660.85 94.90,664.60 C95.27,668.35 95.52,671.97 95.80,674.70 C96.08,677.43 96.35,678.32 96.60,681.00 C96.85,683.68 96.95,687.85 97.30,690.80 C97.65,693.75 98.10,695.70 98.70,698.70 C99.30,701.70 100.23,705.30 100.90,708.80 C101.57,712.30 102.10,716.08 102.70,719.70 C103.30,723.32 103.85,726.90 104.50,730.50 C105.15,734.10 105.95,738.30 106.60,741.30 C107.25,744.30 107.62,746.10 108.40,748.50 C109.18,750.90 110.12,753.66 111.30,755.70 C112.48,757.74 114.43,759.43 115.50,760.75 C116.57,762.07 116.85,763.06 117.70,763.60 C118.55,764.14 120.12,763.93 120.60,764.00" fill="none" stroke="#5BBBD6" stroke-width="2" stroke-linejoin="round" shape-rendering="crispEdges"/>
<g shape-rendering="crispEdges"><rect x="92.00" y="595.00" width="2.00" height="179.00" fill="#5BBBD6"/><rect x="57.00" y="595.00" width="1.00" height="179.00" fill="#ABABAB"/></g>
<text x="839" y="763.30" font-family="Liberation Sans" font-size="23" fill="#000">D</text>
<g shape-rendering="crispEdges">
<rect x="169.00" y="789.00" width="1.00" height="179.00" fill="#EBEBEB"/>
<rect x="395.00" y="789.00" width="1.00" height="179.00" fill="#EBEBEB"/>
<rect x="620.00" y="789.00" width="1.00" height="179.00" fill="#EBEBEB"/>
<rect x="281.00" y="789.00" width="2.00" height="179.00" fill="#EBEBEB"/>
<rect x="506.00" y="789.00" width="2.00" height="179.00" fill="#EBEBEB"/>
<rect x="732.00" y="789.00" width="2.00" height="179.00" fill="#EBEBEB"/>
<rect x="57.00" y="790.00" width="770.00" height="2.00" fill="#EBEBEB"/>
<rect x="57.00" y="832.00" width="770.00" height="2.00" fill="#EBEBEB"/>
<rect x="57.00" y="874.00" width="770.00" height="2.00" fill="#EBEBEB"/>
<rect x="57.00" y="916.00" width="770.00" height="2.00" fill="#EBEBEB"/>
<rect x="57.00" y="812.00" width="770.00" height="1.00" fill="#EBEBEB"/>
<rect x="57.00" y="854.00" width="770.00" height="1.00" fill="#EBEBEB"/>
<rect x="57.00" y="896.00" width="770.00" height="1.00" fill="#EBEBEB"/>
<rect x="57.00" y="939.00" width="770.00" height="1.00" fill="#EBEBEB"/>
<rect x="57.00" y="959.00" width="770.00" height="2.00" fill="#ABABAB"/>
</g>
<path d="M76.40,949.80 C77.53,948.68 81.23,945.57 83.20,943.10 C85.17,940.63 86.74,937.18 88.20,935.00 C89.66,932.82 90.49,932.08 91.95,930.00 C93.41,927.92 95.28,925.00 96.95,922.50 C98.62,920.00 100.28,917.29 101.95,915.00 C103.62,912.71 105.40,910.32 106.95,908.75 C108.50,907.18 109.81,906.29 111.25,905.60 C112.69,904.91 113.93,904.49 115.60,904.60 C117.27,904.71 119.47,905.45 121.25,906.25 C123.03,907.05 124.38,907.94 126.25,909.40 C128.12,910.86 130.21,912.72 132.50,915.00 C134.79,917.28 137.50,920.28 140.00,923.10 C142.50,925.92 145.21,929.50 147.50,931.90 C149.79,934.30 151.88,935.94 153.75,937.50 C155.62,939.06 157.08,940.10 158.75,941.25 C160.42,942.40 162.08,943.52 163.75,944.40 C165.42,945.27 166.88,945.88 168.75,946.50 C170.62,947.12 172.92,947.62 175.00,948.10 C177.08,948.58 178.75,949.08 181.25,949.40 C183.75,949.72 186.46,949.61 190.00,950.00 C193.54,950.39 198.75,951.25 202.50,951.75 C206.25,952.25 208.12,952.50 212.50,953.00 C216.88,953.50 220.42,954.38 228.75,954.75 C237.08,955.12 253.96,954.95 262.50,955.20 C271.04,955.45 266.67,956.08 280.00,956.25 C293.33,956.42 330.83,956.08 342.50,956.25 C354.17,956.42 347.92,957.24 350.00,957.30 C352.08,957.36 345.62,956.73 355.00,956.60 C364.38,956.47 393.12,956.27 406.25,956.50 C419.38,956.73 418.62,957.82 433.75,958.00 C448.88,958.18 485.96,957.50 497.00,957.60 C508.04,957.70 474.33,958.42 500.00,958.60 C525.67,958.78 625.50,958.53 651.00,958.70 C676.50,958.87 623.67,959.43 653.00,959.60 C682.33,959.77 798.00,959.68 827.00,959.70 L827.00,960.00 L76.40,960.00 Z" fill="#EFAD00" fill-opacity="0.5" shape-rendering="crispEdges"/>
<path d="M76.40,949.80 C77.53,948.68 81.23,945.57 83.20,943.10 C85.17,940.63 86.74,937.18 88.20,935.00 C89.66,932.82 90.49,932.08 91.95,930.00 C93.41,927.92 95.28,925.00 96.95,922.50 C98.62,920.00 100.28,917.29 101.95,915.00 C103.62,912.71 105.40,910.32 106.95,908.75 C108.50,907.18 109.81,906.29 111.25,905.60 C112.69,904.91 113.93,904.49 115.60,904.60 C117.27,904.71 119.47,905.45 121.25,906.25 C123.03,907.05 124.38,907.94 126.25,909.40 C128.12,910.86 130.21,912.72 132.50,915.00 C134.79,917.28 137.50,920.28 140.00,923.10 C142.50,925.92 145.21,929.50 147.50,931.90 C149.79,934.30 151.88,935.94 153.75,937.50 C155.62,939.06 157.08,940.10 158.75,941.25 C160.42,942.40 162.08,943.52 163.75,944.40 C165.42,945.27 166.88,945.88 168.75,946.50 C170.62,947.12 172.92,947.62 175.00,948.10 C177.08,948.58 178.75,949.08 181.25,949.40 C183.75,949.72 186.46,949.61 190.00,950.00 C193.54,950.39 198.75,951.25 202.50,951.75 C206.25,952.25 208.12,952.50 212.50,953.00 C216.88,953.50 220.42,954.38 228.75,954.75 C237.08,955.12 253.96,954.95 262.50,955.20 C271.04,955.45 266.67,956.08 280.00,956.25 C293.33,956.42 330.83,956.08 342.50,956.25 C354.17,956.42 347.92,957.24 350.00,957.30 C352.08,957.36 345.62,956.73 355.00,956.60 C364.38,956.47 393.12,956.27 406.25,956.50 C419.38,956.73 418.62,957.82 433.75,958.00 C448.88,958.18 485.96,957.50 497.00,957.60 C508.04,957.70 474.33,958.42 500.00,958.60 C525.67,958.78 625.50,958.53 651.00,958.70 C676.50,958.87 623.67,959.43 653.00,959.60 C682.33,959.77 798.00,959.68 827.00,959.70" fill="none" stroke="#F2AE00" stroke-width="2" stroke-linejoin="round" shape-rendering="crispEdges"/>
<path d="M96.20,956.00 C97.08,954.79 100.16,951.00 101.45,948.75 C102.74,946.50 103.22,945.83 103.95,942.50 C104.68,939.17 105.22,933.33 105.85,928.75 C106.48,924.17 107.23,918.96 107.75,915.00 C108.27,911.04 108.43,908.96 108.95,905.00 C109.47,901.04 110.22,896.67 110.85,891.25 C111.48,885.83 112.23,877.71 112.75,872.50 C113.27,867.29 113.53,864.17 113.95,860.00 C114.37,855.83 114.83,851.67 115.25,847.50 C115.67,843.33 116.03,838.75 116.45,835.00 C116.87,831.25 117.33,828.12 117.75,825.00 C118.17,821.88 118.60,818.96 118.95,816.25 C119.30,813.54 119.53,811.12 119.85,808.75 C120.17,806.38 120.37,803.71 120.85,802.00 C121.33,800.29 122.27,799.30 122.75,798.50 C123.23,797.70 123.24,796.82 123.75,797.20 C124.26,797.58 125.08,799.58 125.80,800.80 C126.52,802.02 127.43,802.55 128.05,804.50 C128.68,806.45 129.09,809.50 129.55,812.50 C130.01,815.50 130.38,818.75 130.80,822.50 C131.22,826.25 131.63,830.83 132.05,835.00 C132.47,839.17 132.78,843.33 133.30,847.50 C133.82,851.67 134.43,856.25 135.15,860.00 C135.88,863.75 136.82,866.67 137.65,870.00 C138.48,873.33 139.42,877.08 140.15,880.00 C140.88,882.92 141.42,884.17 142.05,887.50 C142.68,890.83 143.33,895.83 143.95,900.00 C144.58,904.17 145.18,908.33 145.80,912.50 C146.42,916.67 146.85,921.46 147.65,925.00 C148.45,928.54 149.69,931.25 150.60,933.75 C151.51,936.25 152.37,937.71 153.10,940.00 C153.83,942.29 154.27,945.00 155.00,947.50 C155.73,950.00 156.57,953.12 157.50,955.00 C158.43,956.88 159.56,958.29 160.60,958.75 C161.64,959.21 162.60,958.12 163.75,957.75 C164.90,957.38 166.88,956.71 167.50,956.50 L167.50,960.00 L96.20,960.00 Z" fill="#5BBBD5" fill-opacity="0.5" shape-rendering="crispEdges"/>
<path d="M96.20,956.00 C97.08,954.79 100.16,951.00 101.45,948.75 C102.74,946.50 103.22,945.83 103.95,942.50 C104.68,939.17 105.22,933.33 105.85,928.75 C106.48,924.17 107.23,918.96 107.75,915.00 C108.27,911.04 108.43,908.96 108.95,905.00 C109.47,901.04 110.22,896.67 110.85,891.25 C111.48,885.83 112.23,877.71 112.75,872.50 C113.27,867.29 113.53,864.17 113.95,860.00 C114.37,855.83 114.83,851.67 115.25,847.50 C115.67,843.33 116.03,838.75 116.45,835.00 C116.87,831.25 117.33,828.12 117.75,825.00 C118.17,821.88 118.60,818.96 118.95,816.25 C119.30,813.54 119.53,811.12 119.85,808.75 C120.17,806.38 120.37,803.71 120.85,802.00 C121.33,800.29 122.27,799.30 122.75,798.50 C123.23,797.70 123.24,796.82 123.75,797.20 C124.26,797.58 125.08,799.58 125.80,800.80 C126.52,802.02 127.43,802.55 128.05,804.50 C128.68,806.45 129.09,809.50 129.55,812.50 C130.01,815.50 130.38,818.75 130.80,822.50 C131.22,826.25 131.63,830.83 132.05,835.00 C132.47,839.17 132.78,843.33 133.30,847.50 C133.82,851.67 134.43,856.25 135.15,860.00 C135.88,863.75 136.82,866.67 137.65,870.00 C138.48,873.33 139.42,877.08 140.15,880.00 C140.88,882.92 141.42,884.17 142.05,887.50 C142.68,890.83 143.33,895.83 143.95,900.00 C144.58,904.17 145.18,908.33 145.80,912.50 C146.42,916.67 146.85,921.46 147.65,925.00 C148.45,928.54 149.69,931.25 150.60,933.75 C151.51,936.25 152.37,937.71 153.10,940.00 C153.83,942.29 154.27,945.00 155.00,947.50 C155.73,950.00 156.57,953.12 157.50,955.00 C158.43,956.88 159.56,958.29 160.60,958.75 C161.64,959.21 162.60,958.12 163.75,957.75 C164.90,957.38 166.88,956.71 167.50,956.50" fill="none" stroke="#5BBBD6" stroke-width="2" stroke-linejoin="round" shape-rendering="crispEdges"/>
<g shape-rendering="crispEdges"><rect x="123.00" y="789.00" width="2.00" height="179.00" fill="#5BBBD6"/><rect x="57.00" y="789.00" width="1.00" height="179.00" fill="#ABABAB"/></g>
<text x="839" y="957.30" font-family="Liberation Sans" font-size="23" fill="#000">E</text>
<g shape-rendering="crispEdges">
<rect x="169.00" y="982.00" width="1.00" height="179.00" fill="#EBEBEB"/>
<rect x="395.00" y="982.00" width="1.00" height="179.00" fill="#EBEBEB"/>
<rect x="620.00" y="982.00" width="1.00" height="179.00" fill="#EBEBEB"/>
<rect x="281.00" y="982.00" width="2.00" height="179.00" fill="#EBEBEB"/>
<rect x="506.00" y="982.00" width="2.00" height="179.00" fill="#EBEBEB"/>
<rect x="732.00" y="982.00" width="2.00" height="179.00" fill="#EBEBEB"/>
<rect x="57.00" y="1030.00" width="770.00" height="2.00" fill="#EBEBEB"/>
<rect x="57.00" y="1091.00" width="770.00" height="2.00" fill="#EBEBEB"/>
<rect x="57.00" y="1001.00" width="770.00" height="1.00" fill="#EBEBEB"/>
<rect x="57.00" y="1062.00" width="770.00" height="1.00" fill="#EBEBEB"/>
<rect x="57.00" y="1123.00" width="770.00" height="1.00" fill="#EBEBEB"/>
<rect x="57.00" y="1152.00" width="770.00" height="2.00" fill="#ABABAB"/>
</g>
<path d="M79.40,1148.60 C80.07,1147.60 82.23,1144.18 83.40,1142.60 C84.57,1141.02 85.38,1140.33 86.40,1139.10 C87.42,1137.87 88.48,1136.58 89.50,1135.20 C90.52,1133.82 91.45,1132.25 92.50,1130.80 C93.55,1129.35 94.75,1127.97 95.80,1126.50 C96.85,1125.03 97.73,1123.32 98.80,1122.00 C99.87,1120.68 101.05,1119.62 102.20,1118.60 C103.35,1117.58 104.67,1116.58 105.70,1115.90 C106.73,1115.22 107.17,1115.02 108.40,1114.50 C109.63,1113.98 111.97,1113.20 113.10,1112.80 C114.23,1112.40 114.17,1112.15 115.20,1112.10 C116.23,1112.05 117.83,1112.22 119.30,1112.50 C120.77,1112.78 122.53,1113.23 124.00,1113.80 C125.47,1114.37 126.85,1115.22 128.10,1115.90 C129.35,1116.58 130.35,1117.00 131.50,1117.90 C132.65,1118.80 133.38,1119.80 135.00,1121.30 C136.62,1122.80 139.17,1125.03 141.25,1126.90 C143.33,1128.77 145.21,1130.73 147.50,1132.50 C149.79,1134.27 152.50,1136.04 155.00,1137.50 C157.50,1138.96 160.00,1140.32 162.50,1141.25 C165.00,1142.18 167.50,1142.52 170.00,1143.10 C172.50,1143.68 174.79,1144.31 177.50,1144.75 C180.21,1145.19 183.33,1145.42 186.25,1145.75 C189.17,1146.08 192.29,1146.46 195.00,1146.75 C197.71,1147.04 199.17,1147.25 202.50,1147.50 C205.83,1147.75 209.58,1147.92 215.00,1148.25 C220.42,1148.58 228.33,1149.08 235.00,1149.50 C241.67,1149.92 224.58,1150.45 255.00,1150.75 C285.42,1151.05 390.00,1151.09 417.50,1151.30 C445.00,1151.51 375.58,1151.80 420.00,1152.00 C464.42,1152.20 640.00,1152.42 684.00,1152.50 L684.00,1153.00 L79.40,1153.00 Z" fill="#EFAD00" fill-opacity="0.5" shape-rendering="crispEdges"/>
<path d="M79.40,1148.60 C80.07,1147.60 82.23,1144.18 83.40,1142.60 C84.57,1141.02 85.38,1140.33 86.40,1139.10 C87.42,1137.87 88.48,1136.58 89.50,1135.20 C90.52,1133.82 91.45,1132.25 92.50,1130.80 C93.55,1129.35 94.75,1127.97 95.80,1126.50 C96.85,1125.03 97.73,1123.32 98.80,1122.00 C99.87,1120.68 101.05,1119.62 102.20,1118.60 C103.35,1117.58 104.67,1116.58 105.70,1115.90 C106.73,1115.22 107.17,1115.02 108.40,1114.50 C109.63,1113.98 111.97,1113.20 113.10,1112.80 C114.23,1112.40 114.17,1112.15 115.20,1112.10 C116.23,1112.05 117.83,1112.22 119.30,1112.50 C120.77,1112.78 122.53,1113.23 124.00,1113.80 C125.47,1114.37 126.85,1115.22 128.10,1115.90 C129.35,1116.58 130.35,1117.00 131.50,1117.90 C132.65,1118.80 133.38,1119.80 135.00,1121.30 C136.62,1122.80 139.17,1125.03 141.25,1126.90 C143.33,1128.77 145.21,1130.73 147.50,1132.50 C149.79,1134.27 152.50,1136.04 155.00,1137.50 C157.50,1138.96 160.00,1140.32 162.50,1141.25 C165.00,1142.18 167.50,1142.52 170.00,1143.10 C172.50,1143.68 174.79,1144.31 177.50,1144.75 C180.21,1145.19 183.33,1145.42 186.25,1145.75 C189.17,1146.08 192.29,1146.46 195.00,1146.75 C197.71,1147.04 199.17,1147.25 202.50,1147.50 C205.83,1147.75 209.58,1147.92 215.00,1148.25 C220.42,1148.58 228.33,1149.08 235.00,1149.50 C241.67,1149.92 224.58,1150.45 255.00,1150.75 C285.42,1151.05 390.00,1151.09 417.50,1151.30 C445.00,1151.51 375.58,1151.80 420.00,1152.00 C464.42,1152.20 640.00,1152.42 684.00,1152.50" fill="none" stroke="#F2AE00" stroke-width="2" stroke-linejoin="round" shape-rendering="crispEdges"/>
<path d="M79.30,1148.50 C79.76,1147.71 81.28,1145.58 82.05,1143.75 C82.82,1141.92 83.27,1140.83 83.90,1137.50 C84.52,1134.17 85.17,1128.33 85.80,1123.75 C86.43,1119.17 87.08,1114.38 87.70,1110.00 C88.33,1105.62 89.03,1101.67 89.55,1097.50 C90.07,1093.33 90.49,1088.25 90.80,1085.00 C91.11,1081.75 91.19,1080.00 91.40,1078.00 C91.61,1076.00 91.83,1076.12 92.05,1073.00 C92.27,1069.88 92.39,1063.83 92.70,1059.25 C93.01,1054.67 93.59,1049.88 93.90,1045.50 C94.21,1041.12 94.23,1037.17 94.55,1033.00 C94.87,1028.83 95.49,1024.67 95.80,1020.50 C96.11,1016.33 96.08,1011.54 96.40,1008.00 C96.72,1004.46 97.28,1001.96 97.70,999.25 C98.12,996.54 98.62,993.11 98.90,991.75 C99.18,990.39 99.20,990.89 99.40,991.10 C99.60,991.31 99.77,991.85 100.10,993.00 C100.43,994.15 100.98,995.71 101.40,998.00 C101.82,1000.29 102.18,1003.62 102.60,1006.75 C103.02,1009.88 103.48,1013.21 103.90,1016.75 C104.32,1020.29 104.68,1024.04 105.10,1028.00 C105.52,1031.96 105.98,1036.75 106.40,1040.50 C106.82,1044.25 107.18,1047.38 107.60,1050.50 C108.02,1053.62 108.48,1056.33 108.90,1059.25 C109.32,1062.17 109.68,1065.08 110.10,1068.00 C110.52,1070.92 110.90,1074.33 111.40,1076.75 C111.90,1079.17 112.50,1079.04 113.10,1082.50 C113.70,1085.96 114.37,1092.92 115.00,1097.50 C115.63,1102.08 116.28,1105.83 116.90,1110.00 C117.53,1114.17 118.03,1118.33 118.75,1122.50 C119.47,1126.67 120.42,1131.88 121.25,1135.00 C122.08,1138.12 122.71,1139.48 123.75,1141.25 C124.79,1143.02 126.21,1144.14 127.50,1145.60 C128.79,1147.06 130.83,1149.27 131.50,1150.00 L131.50,1153.00 L79.30,1153.00 Z" fill="#5BBBD5" fill-opacity="0.5" shape-rendering="crispEdges"/>
<path d="M79.30,1148.50 C79.76,1147.71 81.28,1145.58 82.05,1143.75 C82.82,1141.92 83.27,1140.83 83.90,1137.50 C84.52,1134.17 85.17,1128.33 85.80,1123.75 C86.43,1119.17 87.08,1114.38 87.70,1110.00 C88.33,1105.62 89.03,1101.67 89.55,1097.50 C90.07,1093.33 90.49,1088.25 90.80,1085.00 C91.11,1081.75 91.19,1080.00 91.40,1078.00 C91.61,1076.00 91.83,1076.12 92.05,1073.00 C92.27,1069.88 92.39,1063.83 92.70,1059.25 C93.01,1054.67 93.59,1049.88 93.90,1045.50 C94.21,1041.12 94.23,1037.17 94.55,1033.00 C94.87,1028.83 95.49,1024.67 95.80,1020.50 C96.11,1016.33 96.08,1011.54 96.40,1008.00 C96.72,1004.46 97.28,1001.96 97.70,999.25 C98.12,996.54 98.62,993.11 98.90,991.75 C99.18,990.39 99.20,990.89 99.40,991.10 C99.60,991.31 99.77,991.85 100.10,993.00 C100.43,994.15 100.98,995.71 101.40,998.00 C101.82,1000.29 102.18,1003.62 102.60,1006.75 C103.02,1009.88 103.48,1013.21 103.90,1016.75 C104.32,1020.29 104.68,1024.04 105.10,1028.00 C105.52,1031.96 105.98,1036.75 106.40,1040.50 C106.82,1044.25 107.18,1047.38 107.60,1050.50 C108.02,1053.62 108.48,1056.33 108.90,1059.25 C109.32,1062.17 109.68,1065.08 110.10,1068.00 C110.52,1070.92 110.90,1074.33 111.40,1076.75 C111.90,1079.17 112.50,1079.04 113.10,1082.50 C113.70,1085.96 114.37,1092.92 115.00,1097.50 C115.63,1102.08 116.28,1105.83 116.90,1110.00 C117.53,1114.17 118.03,1118.33 118.75,1122.50 C119.47,1126.67 120.42,1131.88 121.25,1135.00 C122.08,1138.12 122.71,1139.48 123.75,1141.25 C124.79,1143.02 126.21,1144.14 127.50,1145.60 C128.79,1147.06 130.83,1149.27 131.50,1150.00" fill="none" stroke="#5BBBD6" stroke-width="2" stroke-linejoin="round" shape-rendering="crispEdges"/>
<g shape-rendering="crispEdges"><rect x="97.00" y="982.00" width="2.00" height="179.00" fill="#5BBBD6"/><rect x="57.00" y="982.00" width="1.00" height="179.00" fill="#ABABAB"/></g>
<text x="839" y="1150.30" font-family="Liberation Sans" font-size="23" fill="#000">F</text>
<text x="56.80" y="1193.8" text-anchor="middle" font-family="Liberation Sans" font-size="23" fill="#4D4D4D">0</text>
<text x="282.20" y="1193.8" text-anchor="middle" font-family="Liberation Sans" font-size="23" fill="#4D4D4D">20</text>
<text x="507.60" y="1193.8" text-anchor="middle" font-family="Liberation Sans" font-size="23" fill="#4D4D4D">40</text>
<text x="733.00" y="1193.8" text-anchor="middle" font-family="Liberation Sans" font-size="23" fill="#4D4D4D">60</text>
<text x="191.6" y="1228" font-family="Liberation Sans" font-size="29" fill="#000">Mean level of words correct per minute</text>
<g shape-rendering="crispEdges">
<rect x="913" y="565" width="43" height="42" fill="#EFAD00" fill-opacity="0.5" stroke="#F2AE00" stroke-width="2"/>
<rect x="913" y="611" width="43" height="42" fill="#5BBBD5" fill-opacity="0.5" stroke="#5BBBD6" stroke-width="2"/>
<rect x="934" y="609" width="2" height="46" fill="#5BBBD6"/>
</g>
<text x="972" y="595.8" font-family="Liberation Sans" font-size="23" fill="#000">New Cases</text>
<text x="972" y="641.1" font-family="Liberation Sans" font-size="23" fill="#000">Original Cases</text>
</svg>
</body></html>
